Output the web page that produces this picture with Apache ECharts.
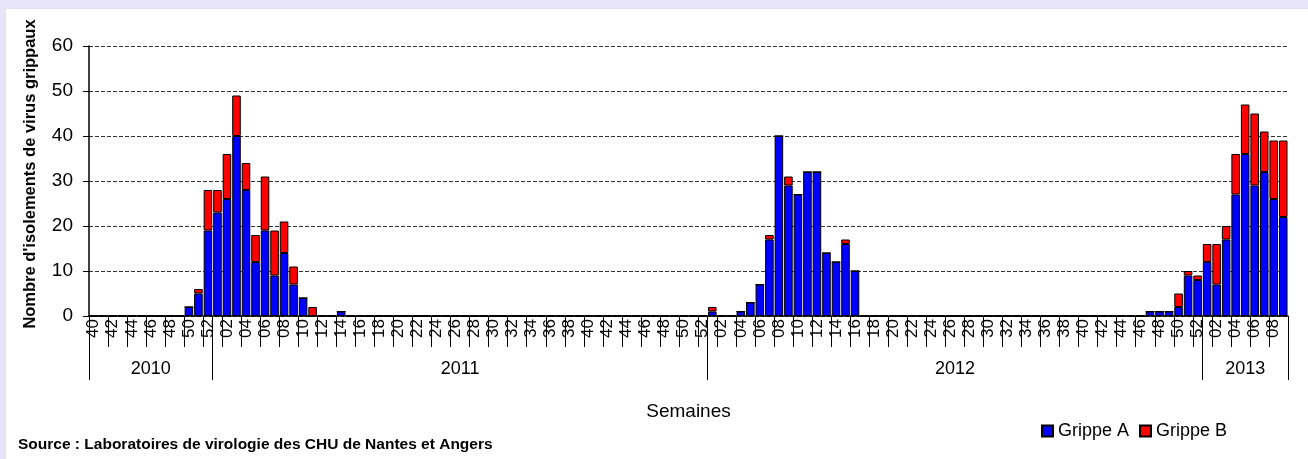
<!DOCTYPE html>
<html>
<head>
<meta charset="utf-8">
<script src="https://cdn.jsdelivr.net/npm/echarts@6/dist/echarts.min.js"></script>
<style>
html,body{margin:0;padding:0;background:#E7E3F8;width:1308px;height:459px;overflow:hidden;}
#c{position:absolute;left:6px;top:9px;width:1302px;height:450px;background:#fff;}
</style>
</head>
<body>
<div id="c"></div>
<script>
const weekLabels = [
 '40','41','42','43','44','45','46','47','48','49','50','51','52',
 '01','02','03','04','05','06','07','08','09','10','11','12','13','14','15','16','17','18','19','20','21','22','23','24','25','26','27','28','29','30','31','32','33','34','35','36','37','38','39','40','41','42','43','44','45','46','47','48','49','50','51','52',
 '01','02','03','04','05','06','07','08','09','10','11','12','13','14','15','16','17','18','19','20','21','22','23','24','25','26','27','28','29','30','31','32','33','34','35','36','37','38','39','40','41','42','43','44','45','46','47','48','49','50','51','52',
 '01','02','03','04','05','06','07','08','09'
];
const yearLabels = ['2010','2011','2012','2013'];
const yearWeekCounts = [13, 52, 52, 9];

const grippeA = [
 0,0,0,0,0,0,0,0,0,0,2,5,19,
 23,26,40,28,12,19,9,14,7,4,0,0,0,1,0,0,0,0,0,0,0,0,0,0,0,0,0,0,0,0,0,0,0,0,0,0,0,0,0,0,0,0,0,0,0,0,0,0,0,0,0,0,
 1,0,0,1,3,7,17,40,29,27,32,32,14,12,16,10,0,0,0,0,0,0,0,0,0,0,0,0,0,0,0,0,0,0,0,0,0,0,0,0,0,0,0,0,0,0,1,1,1,2,9,8,
 12,7,17,27,36,29,32,26,22
];
const grippeB = [
 0,0,0,0,0,0,0,0,0,0,0,1,9,
 5,10,9,6,6,12,10,7,4,0,2,0,0,0,0,0,0,0,0,0,0,0,0,0,0,0,0,0,0,0,0,0,0,0,0,0,0,0,0,0,0,0,0,0,0,0,0,0,0,0,0,0,
 1,0,0,0,0,0,1,0,2,0,0,0,0,0,1,0,0,0,0,0,0,0,0,0,0,0,0,0,0,0,0,0,0,0,0,0,0,0,0,0,0,0,0,0,0,0,0,0,0,3,1,1,
 4,9,3,9,11,16,9,13,17
];

// group boundaries and centres derived from week counts
const bounds = [0];
yearWeekCounts.forEach(n => bounds.push(bounds[bounds.length - 1] + n));
const centres = yearLabels.map((y, i) => (bounds[i] + bounds[i + 1]) / 2);
const total = bounds[bounds.length - 1];

const font = 'Liberation Sans, Arial, sans-serif';
const chart = echarts.init(document.getElementById('c'));
chart.setOption({
  backgroundColor: '#fff',
  animation: false,
  title: {
    text: 'Source : Laboratoires de virologie des CHU de Nantes et Angers',
    left: 7, top: 423,
    textStyle: {fontFamily: font, fontSize: 15.5, fontWeight: 'bold', color: '#000'}
  },
  legend: {
    left: 1030, top: 408,
    itemWidth: 11, itemHeight: 11, itemGap: 10,
    icon: 'rect',
    textStyle: {fontFamily: font, fontSize: 18, color: '#000'},
    data: ['Grippe A', 'Grippe B']
  },
  grid: {left: 83, right: 20, top: 37, bottom: 143, containLabel: false},
  xAxis: [{
    type: 'category',
    data: weekLabels,
    boundaryGap: true,
    name: 'Semaines',
    nameLocation: 'middle',
    nameGap: 86,
    nameTextStyle: {fontFamily: font, fontSize: 19, color: '#000'},
    axisLine: {lineStyle: {color: '#000', width: 1.5}},
    axisTick: {show: true, interval: 1, length: 31, lineStyle: {color: '#000', width: 1}},
    axisLabel: {interval: 1, rotate: 90, margin: 3, fontFamily: font, fontSize: 17, color: '#000'},
    splitLine: {show: false}
  }, {
    type: 'value',
    position: 'bottom',
    min: 0, max: total,
    axisLine: {show: false},
    axisTick: {show: true, length: 64, customValues: bounds, lineStyle: {color: '#000', width: 1}},
    axisLabel: {
      customValues: centres,
      margin: 44,
      fontFamily: font, fontSize: 18, color: '#000',
      formatter: v => { const i = centres.indexOf(v); return i >= 0 ? yearLabels[i] : ''; }
    },
    splitLine: {show: false}
  }],
  yAxis: {
    type: 'value',
    min: 0, max: 60, interval: 10,
    name: "Nombre d'isolements de virus grippaux",
    nameLocation: 'middle',
    nameRotate: 90,
    nameGap: 50,
    nameTextStyle: {fontFamily: font, fontSize: 16.5, fontWeight: 'bold', color: '#000', padding: [0, 0, 0, 14]},
    axisLine: {show: true, lineStyle: {color: '#000', width: 1.5}},
    axisTick: {show: true, length: 6, lineStyle: {color: '#000'}},
    axisLabel: {fontFamily: font, fontSize: 19, color: '#000', margin: 16},
    splitLine: {show: true, lineStyle: {color: '#333', type: [4, 2], width: 1}}
  },
  series: [{
    name: 'Grippe A', type: 'bar', stack: 'g', data: grippeA,
    barCategoryGap: '10%',
    itemStyle: {color: '#0000FF', borderColor: '#000', borderWidth: 1}
  }, {
    name: 'Grippe B', type: 'bar', stack: 'g', data: grippeB,
    barCategoryGap: '10%',
    itemStyle: {color: '#FF0000', borderColor: '#000', borderWidth: 1}
  }]
});
</script>
</body>
</html>
